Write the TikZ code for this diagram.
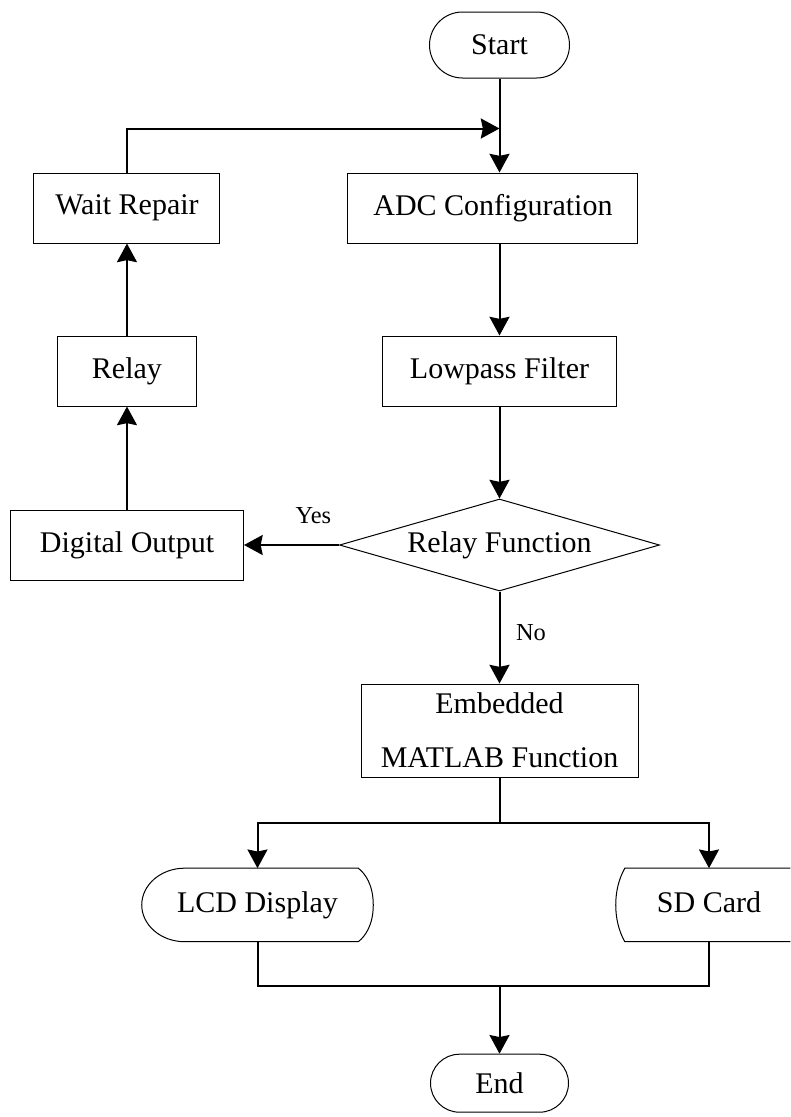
\documentclass[tikz,border=0pt]{standalone}
\usepackage{fontspec}
\setmainfont{Liberation Serif}
\usepackage{tikz}
\usetikzlibrary{arrows.meta,shapes.geometric,positioning,calc}
\tikzset{
  term_box/.style={draw,line width=0.75pt,rounded corners=24.75pt,minimum width=105pt,
    minimum height=49.5pt,inner sep=0pt,font=\fontsize{22.5}{27}\selectfont},
  proc_box/.style={draw,line width=0.75pt,minimum height=52.5pt,inner sep=0pt,
    font=\fontsize{22.5}{27}\selectfont,align=center},
  decide_box/.style={draw,diamond,aspect=3.5,line width=0.75pt,minimum width=240pt,
    minimum height=69pt,inner sep=0pt,font=\fontsize{22.5}{27}\selectfont},
  io_box/.style={minimum height=54.75pt,inner sep=0pt,text height=15.5pt,text depth=4.7pt,
    font=\fontsize{22.5}{27}\selectfont},
  io_line/.style={line width=0.75pt},
  arr/.style={-{Stealth[length=14pt,width=15pt,inset=1.5pt]},line width=1.5pt},
  link/.style={line width=1.5pt},
  lbl/.style={font=\fontsize{18.3}{22}\selectfont},
}

\begin{document}
\begin{tikzpicture}
  \useasboundingbox (0,0) rectangle (592.5pt,-837.75pt);

  % main column
  \node[term_box] (start) at (374.625pt,-33.75pt) {Start};
  \node[proc_box,minimum width=217.5pt,below=70.5pt of start,xshift=-4.9pt] (adc) {ADC Configuration};
  \node[proc_box,minimum width=175.5pt,below=69pt of adc,xshift=4.9pt] (lpf) {Lowpass Filter};
  \node[decide_box,below=69pt of lpf] (relfn) {Relay Function};
  \node[proc_box,minimum width=207.75pt,minimum height=69.75pt,below=69pt of relfn] (emb)
    {Embedded\\[13.5pt]MATLAB Function};

  % left column
  \node[proc_box,minimum width=139.5pt,left=95.25pt of adc] (wait) {Wait Repair};
  \node[proc_box,minimum width=104.25pt,below=69pt of wait] (relay) {Relay};
  \node[proc_box,minimum width=174.75pt,left=71.25pt of relfn] (digout) {Digital Output};

  % outputs
  \coordinate (jn) at ([yshift=-37.5pt]start.south);
  \coordinate (br) at ([yshift=-34pt]emb.south);
  \node[io_box,minimum width=173.25pt,below=34pt of br,xshift=-181.5pt] (lcd) {LCD Display};
  \node[io_box,minimum width=139.5pt,below=34pt of br,xshift=157.125pt] (sd) {SD Card};
  \coordinate (mg) at ($(emb.south |- lcd.south)+(0,-33.5pt)$);
  \node[term_box,minimum width=103.5pt,minimum height=43.5pt,rounded corners=21.75pt,
    below=50.5pt of mg] (end) {End};

  \draw[io_line] ([xshift=32.25pt]lcd.north west) -- ([xshift=-11.25pt]lcd.north east)
    .. controls ([xshift=-6pt,yshift=-4pt]lcd.north east) and ([yshift=15pt]lcd.east) .. (lcd.east)
    .. controls ([yshift=-15pt]lcd.east) and ([xshift=-6pt,yshift=4pt]lcd.south east) .. ([xshift=-11.25pt]lcd.south east)
    -- ([xshift=32.25pt]lcd.south west)
    .. controls ([xshift=14.25pt]lcd.south west) and ([yshift=-15pt]lcd.west) .. (lcd.west)
    .. controls ([yshift=15pt]lcd.west) and ([xshift=14.25pt]lcd.north west) .. cycle;
  \draw[io_line] ([xshift=-9pt]sd.north east) -- ([xshift=6.75pt]sd.north west)
    .. controls ([xshift=2.25pt,yshift=-8.25pt]sd.north west) and ([yshift=10pt]sd.west) .. (sd.west)
    .. controls ([yshift=-10pt]sd.west) and ([xshift=2.25pt,yshift=8.25pt]sd.south west) .. ([xshift=6.75pt]sd.south west)
    -- ([xshift=-9pt]sd.south east);

  \draw[arr] (start) -- (start |- adc.north);
  \draw[arr] (adc.south -| lpf) -- (lpf);
  \draw[arr] (lpf) -- (relfn);
  \draw[arr] (relfn) -- node[lbl,pos=0.27,yshift=21.75pt]{Yes} (digout);
  \draw[arr] (relfn) -- node[lbl,midway,xshift=23.6pt,yshift=4pt]{No} (emb);
  \draw[arr] (relay.south |- digout.north) -- (relay);
  \draw[arr] (relay) -- (wait);
  \draw[arr] (wait) |- (jn);
  \draw[link] (emb) -- (br);
  \draw[arr] (br) -| (lcd.north);
  \draw[arr] (br) -| (sd.north);
  \draw[link] (lcd.south) |- (mg) -| (sd.south);
  \draw[arr] (mg) -- (end);
\end{tikzpicture}
\end{document}
